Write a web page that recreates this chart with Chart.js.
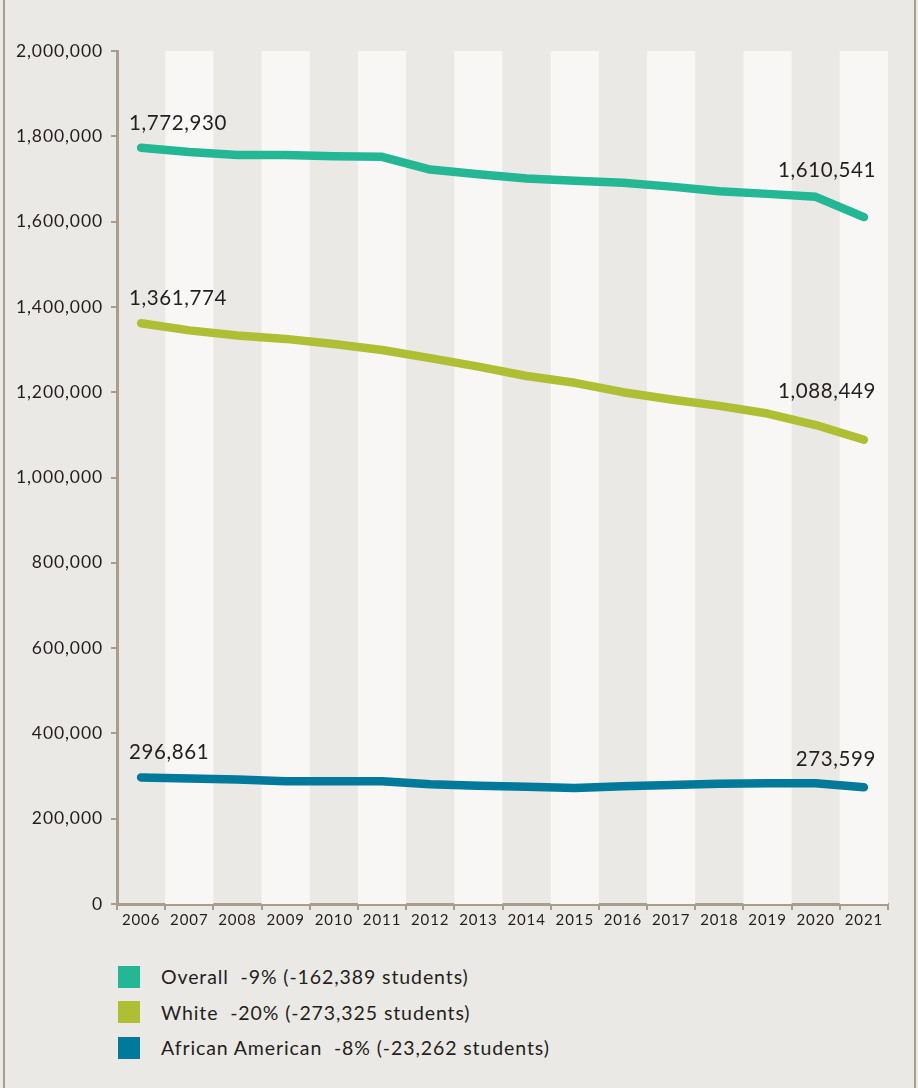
<!DOCTYPE html>
<html>
<head>
<meta charset="utf-8">
<script src="https://cdn.jsdelivr.net/npm/chart.js@4.4.1/dist/chart.umd.min.js"></script>
<style>
  html, body { margin: 0; padding: 0; }
  body { width: 918px; height: 1088px; background: #ebe9e5; position: relative; overflow: hidden;
         font-family: Lato, "Noto Sans", sans-serif; color: #231f20; }
  #frame { position: absolute; left: 3px; top: 0; width: 909px; height: 1088px;
           border-left: 2px solid #a89e8e; border-right: 2px solid #a89e8e; }
  #wrap { position: absolute; left: 0; top: 0; width: 918px; height: 940px; }
  #legend { position: absolute; left: 118px; top: 959px; }
  .row { height: 35.5px; display: flex; align-items: center; font-size: 19.5px; letter-spacing: 0.9px; white-space: pre; }
  .sw { width: 22px; height: 22px; margin-right: 21px; }
</style>
</head>
<body>
<div id="frame"></div>
<div id="wrap"><canvas id="chart"></canvas></div>
<div id="legend"></div>
<script>
var years = ["2006","2007","2008","2009","2010","2011","2012","2013","2014","2015","2016","2017","2018","2019","2020","2021"];
var overall = [1772930, 1763000, 1756000, 1756000, 1753000, 1752000, 1722000, 1711000, 1701000, 1696000, 1691000, 1682000, 1671000, 1665000, 1658000, 1610541];
var white = [1361774, 1345000, 1333000, 1325000, 1313000, 1299000, 1280000, 1260000, 1238000, 1222000, 1200000, 1183000, 1168000, 1150000, 1123000, 1088449];
var african = [296861, 294000, 292000, 288000, 288000, 288000, 281000, 277000, 275000, 272000, 276000, 279000, 282000, 283000, 283000, 273599];
var legendText = ["Overall  -9% (-162,389 students)", "White  -20% (-273,325 students)", "African American  -8% (-23,262 students)"];
var colors = ["#24b794", "#afbf34", "#00799a"];

// value labels: [dataset, index, dx, dy, align]
var valueLabels = [
  [0, 0, -12, -24, "left"], [0, 15, 12, -47, "right"],
  [1, 0, -12, -25, "left"], [1, 15, 12, -48, "right"],
  [2, 0, -12, -25, "left"], [2, 15, 12, -28, "right"]
];

var fmt = function (v) { return v.toLocaleString("en-US"); };

var bands = {
  id: "bands",
  beforeDraw: function (chart) { chart.ctx.letterSpacing = "0.9px"; },
  beforeDatasetsDraw: function (chart) {
    var ctx = chart.ctx, xs = chart.scales.x, area = chart.chartArea;
    var w = xs.getPixelForValue(1) - xs.getPixelForValue(0);
    ctx.save();
    ctx.fillStyle = "#f8f7f5";
    for (var i = 1; i < years.length; i += 2) {
      var c = xs.getPixelForValue(i);
      ctx.fillRect(c - w / 2, area.top, w, area.bottom - area.top);
    }
    ctx.restore();
  }
};

var labels = {
  id: "labels",
  afterDatasetsDraw: function (chart) {
    var ctx = chart.ctx;
    ctx.save();
    ctx.font = "20.5px Lato";
    ctx.letterSpacing = "0.6px";
    ctx.fillStyle = "#231f20";
    ctx.textBaseline = "middle";
    valueLabels.forEach(function (l) {
      var pt = chart.getDatasetMeta(l[0]).data[l[1]];
      var v = chart.data.datasets[l[0]].data[l[1]];
      ctx.textAlign = l[4];
      ctx.fillText(fmt(v), pt.x + l[2], pt.y + l[3]);
    });
    ctx.restore();
  }
};

var sets = [overall, white, african].map(function (d, i) {
  return {
    label: legendText[i], data: d, borderColor: colors[i], backgroundColor: colors[i],
    borderWidth: 8.5, pointRadius: 0, tension: 0,
    borderCapStyle: "round", borderJoinStyle: "round"
  };
});

new Chart(document.getElementById("chart"), {
  type: "line",
  data: { labels: years, datasets: sets },
  options: {
    responsive: true,
    maintainAspectRatio: false,
    animation: false,
    layout: { padding: { top: 51, right: 30, left: 0, bottom: 0 } },
    plugins: { legend: { display: false }, tooltip: { enabled: false } },
    scales: {
      x: {
        offset: true,
        grid: { offset: true, drawOnChartArea: false, color: "#a89e8e", lineWidth: 2, tickLength: 6 },
        border: { color: "#a89e8e", width: 3 },
        ticks: { color: "#231f20", font: { family: "Lato", size: 15 }, padding: 1, maxRotation: 0, autoSkip: false },
        afterFit: function (s) { s.height = 36; }
      },
      y: {
        min: 0, max: 2000000,
        grid: { drawOnChartArea: false, color: "#a89e8e", lineWidth: 2, tickLength: 6 },
        border: { color: "#a89e8e", width: 3 },
        ticks: { stepSize: 200000, color: "#231f20", font: { family: "Lato", size: 17.5 }, padding: 8,
                 callback: function (v) { return fmt(v); } },
        afterFit: function (s) { s.width = 117; }
      }
    }
  },
  plugins: [bands, labels]
});

var lg = document.getElementById("legend");
legendText.forEach(function (t, i) {
  var row = document.createElement("div");
  row.className = "row";
  row.innerHTML = '<div class="sw" style="background:' + colors[i] + '"></div><span>' + t + '</span>';
  lg.appendChild(row);
});
</script>
</body>
</html>
